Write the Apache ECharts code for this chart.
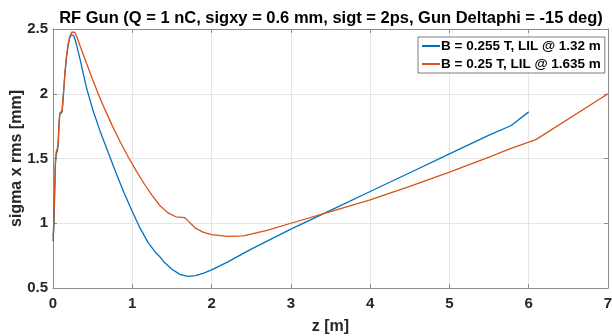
<!DOCTYPE html>
<html>
<head>
<meta charset="utf-8">
<script src="https://cdn.jsdelivr.net/npm/echarts@6/dist/echarts.min.js"></script>
<style>
  html, body { margin: 0; padding: 0; background: #fff; }
  #chart { width: 612px; height: 336px; }
</style>
</head>
<body>
<div id="chart"></div>
<script>
// z [m] and sigma x rms [mm]
const blueZ = [0, 0.01, 0.02, 0.03, 0.04, 0.055, 0.065, 0.075, 0.085, 0.1, 0.115, 0.13, 0.15, 0.17, 0.19, 0.21, 0.23, 0.245,
  0.26, 0.28, 0.3, 0.34, 0.38, 0.43, 0.5, 0.6, 0.7, 0.8, 0.9, 1.0, 1.1, 1.2, 1.3, 1.35, 1.4, 1.5, 1.6, 1.7, 1.8, 1.9, 2.0, 2.2, 2.5,
  3.0, 3.5, 4.0, 4.5, 5.0, 5.5, 5.78, 6.0];
const blueSig = [0.86, 0.95, 1.2, 1.45, 1.53, 1.56, 1.6, 1.75, 1.84, 1.85, 1.86, 1.98, 2.15, 2.28, 2.37, 2.43, 2.455, 2.46,
  2.45, 2.415, 2.37, 2.27, 2.16, 2.03, 1.88, 1.70, 1.54, 1.38, 1.23, 1.09, 0.96, 0.85, 0.77, 0.74, 0.70, 0.645, 0.605, 0.59, 0.595, 0.615, 0.64, 0.70, 0.80,
  0.955, 1.10, 1.245, 1.39, 1.536, 1.68, 1.755, 1.86];

const orangeZ = [0, 0.01, 0.02, 0.03, 0.04, 0.055, 0.065, 0.075, 0.085, 0.1, 0.115, 0.13, 0.15, 0.17, 0.19, 0.21, 0.235, 0.25, 0.26,
  0.275, 0.3, 0.35, 0.42, 0.5, 0.57, 0.65, 0.75, 0.85, 0.95, 1.05, 1.15, 1.25, 1.35, 1.45, 1.55, 1.66, 1.7, 1.75, 1.8, 1.9, 2.0, 2.2, 2.4, 2.7,
  3.0, 3.5, 4.0, 4.5, 5.0, 5.5, 5.76, 6.09, 7.0];
const orangeSig = [0.9, 1.0, 1.25, 1.48, 1.55, 1.58, 1.62, 1.76, 1.85, 1.86, 1.87, 1.99, 2.16, 2.29, 2.38, 2.44, 2.475, 2.487, 2.49,
  2.475, 2.44, 2.355, 2.24, 2.11, 2.0, 1.885, 1.75, 1.625, 1.51, 1.405, 1.305, 1.215, 1.135, 1.08, 1.05, 1.044, 1.02, 0.99, 0.96, 0.93, 0.912, 0.898, 0.902, 0.945,
  1.0, 1.09, 1.18, 1.285, 1.395, 1.51, 1.575, 1.646, 2.0];

const xTicks = [0, 1, 2, 3, 4, 5, 6, 7];
const yTicks = [0.5, 1, 1.5, 2, 2.5];

const seriesNames = ['B = 0.255 T, LIL @ 1.32 m', 'B = 0.25 T, LIL @ 1.635 m'];

const FONT = 'Liberation Sans, Arial, sans-serif';
const AXIS_COLOR = '#8c8c8c';
const TEXT_COLOR = '#262626';

function pairs(xs, ys) {
  return xs.map((x, i) => [x, ys[i]]);
}

const chart = echarts.init(document.getElementById('chart'));

const xBase = {
  type: 'value',
  min: xTicks[0],
  max: xTicks[xTicks.length - 1],
  interval: 1,
  axisLine: { show: true, onZero: false, lineStyle: { color: AXIS_COLOR, width: 1 } },
  axisTick: { show: true, inside: true, length: 4, lineStyle: { color: AXIS_COLOR } },
};
const yBase = {
  type: 'value',
  min: yTicks[0],
  max: yTicks[yTicks.length - 1],
  interval: 0.5,
  axisLine: { show: true, onZero: false, lineStyle: { color: AXIS_COLOR, width: 1 } },
  axisTick: { show: true, inside: true, length: 4, lineStyle: { color: AXIS_COLOR } },
};

const option = {
  animation: false,
  backgroundColor: '#fff',
  title: {
    text: 'RF Gun (Q = 1 nC, sigxy = 0.6 mm, sigt = 2ps, Gun Deltaphi = -15 deg)',
    left: 326,
    textAlign: 'center',
    top: 5,
    textStyle: { fontFamily: FONT, fontSize: 16.5, fontWeight: 'bold', color: '#000' },
  },
  legend: {
    data: seriesNames,
    orient: 'vertical',
    left: 418,
    top: 37,
    padding: [2, 4, 2, 4],
    itemGap: 4,
    itemWidth: 18,
    itemHeight: 2,
    icon: 'rect',
    backgroundColor: '#fff',
    borderColor: '#262626',
    borderWidth: 0.6,
    textStyle: { fontFamily: FONT, fontSize: 13.5, fontWeight: 'bold', color: '#000', padding: [0, 0, 0, -4], lineHeight: 13 },
  },
  grid: { left: 53, right: 4, top: 29, bottom: 48, containLabel: false, outerBoundsMode: 'none' },
  xAxis: [
    Object.assign({}, xBase, {
      position: 'bottom',
      name: 'z [m]',
      nameLocation: 'middle',
      nameGap: 31,
      nameMoveOverlap: false,
      nameTextStyle: { fontFamily: FONT, fontSize: 16, fontWeight: 'bold', color: TEXT_COLOR },
      axisLabel: { margin: 8, fontFamily: FONT, fontSize: 15, fontWeight: 'bold', color: TEXT_COLOR },
      splitLine: { show: true, lineStyle: { color: '#e6e6e6', width: 1 } },
    }),
    Object.assign({}, xBase, {
      position: 'top',
      axisLabel: { show: false },
      splitLine: { show: false },
    }),
  ],
  yAxis: [
    Object.assign({}, yBase, {
      position: 'left',
      name: 'sigma x rms [mm]',
      nameLocation: 'middle',
      nameGap: 28,
      nameMoveOverlap: false,
      nameTextStyle: { fontFamily: FONT, fontSize: 16, fontWeight: 'bold', color: TEXT_COLOR },
      axisLabel: { margin: 5, fontFamily: FONT, fontSize: 15, fontWeight: 'bold', color: TEXT_COLOR },
      splitLine: { show: true, lineStyle: { color: '#e6e6e6', width: 1 } },
    }),
    Object.assign({}, yBase, {
      position: 'right',
      axisLabel: { show: false },
      splitLine: { show: false },
    }),
  ],
  series: [
    {
      name: seriesNames[0],
      type: 'line',
      symbol: 'none',
      color: '#0072BD',
      lineStyle: { width: 1.3 },
      data: pairs(blueZ, blueSig),
      z: 2,
    },
    {
      name: seriesNames[1],
      type: 'line',
      symbol: 'none',
      color: '#D95319',
      lineStyle: { width: 1.3 },
      data: pairs(orangeZ, orangeSig),
      z: 3,
    },
  ],
};

option && chart.setOption(option);
</script>
</body>
</html>
